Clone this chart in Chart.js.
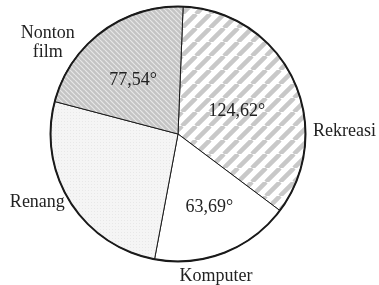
<!DOCTYPE html>
<html>
<head>
<meta charset="utf-8">
<script src="https://cdn.jsdelivr.net/npm/chart.js@4.4.1/dist/chart.umd.min.js"></script>
<style>
  html, body { margin: 0; padding: 0; background: #fff; }
  #wrap { width: 379px; height: 285px; }
</style>
</head>
<body>
<div id="wrap"><canvas id="pie"></canvas></div>
<script>
// Data (besar sudut tiap kegiatan, dalam derajat)
const kategori = ['Rekreasi', 'Komputer', 'Renang', 'Nonton film'];
const sudut = [124.62, 63.69, 94.15, 77.54];
const labelSudut = ['124,62°', '63,69°', '', '77,54°'];

// posisi teks: sudut (derajat dari atas, searah jarum jam) dan jarak dari pusat
const posNama = [
  { a: 89, d: 135, align: 'left' },
  { a: 165, d: 147, align: 'center' },
  { a: 239, d: 132, align: 'right' },
  { a: 305, d: 159, align: 'center' }
];
const posNilai = [
  { a: 69, d: 63 },
  { a: 157, d: 80 },
  null,
  { a: 320, d: 70 }
];

// Pola arsiran
function pola(jenis) {
  const c = document.createElement('canvas');
  const ctx = c.getContext('2d');
  if (jenis === 'garis') {
    const s = 14;
    c.width = s; c.height = s;
    ctx.fillStyle = '#fff';
    ctx.fillRect(0, 0, s, s);
    ctx.strokeStyle = '#c8c8c8';
    ctx.lineWidth = 4.5;
    ctx.beginPath();
    for (let k = -1; k <= 1; k++) {
      ctx.moveTo(k * s, s);
      ctx.lineTo(k * s + s, 0);
    }
    ctx.stroke();
  } else if (jenis === 'halus') {
    const s = 5;
    c.width = s; c.height = s;
    ctx.fillStyle = '#c4c4c4';
    ctx.fillRect(0, 0, s, s);
    ctx.strokeStyle = '#e8e8e8';
    ctx.lineWidth = 1.2;
    ctx.beginPath();
    for (let k = -1; k <= 1; k++) {
      ctx.moveTo(k * s, 0);
      ctx.lineTo(k * s + s, s);
    }
    ctx.stroke();
  } else {
    const s = 3;
    c.width = s; c.height = s;
    ctx.fillStyle = '#f5f5f5';
    ctx.fillRect(0, 0, s, s);
    ctx.fillStyle = '#e8e8e8';
    ctx.fillRect(1, 1, 1, 1);
  }
  return document.createElement('canvas').getContext('2d').createPattern(c, 'repeat');
}

const warna = [pola('garis'), '#ffffff', pola('titik'), pola('halus')];

// Plugin untuk lingkaran luar dan teks
const teksPlugin = {
  id: 'teksPlugin',
  afterDatasetsDraw(chart) {
    const ctx = chart.ctx;
    const arcs = chart.getDatasetMeta(0).data;
    const cx = arcs[0].x, cy = arcs[0].y, r = arcs[0].outerRadius;

    ctx.save();
    ctx.beginPath();
    ctx.arc(cx, cy, r, 0, Math.PI * 2);
    ctx.lineWidth = 2;
    ctx.strokeStyle = '#1a1a1a';
    ctx.stroke();

    ctx.font = '18px "Liberation Serif", "Times New Roman", serif';
    ctx.fillStyle = '#222';
    ctx.textBaseline = 'middle';

    function titik(p) {
      const rad = p.a * Math.PI / 180;
      return { x: cx + Math.sin(rad) * p.d, y: cy - Math.cos(rad) * p.d };
    }

    kategori.forEach((nama, i) => {
      const p = titik(posNama[i]);
      ctx.textAlign = posNama[i].align;
      const baris = nama === 'Nonton film' ? ['Nonton', 'film'] : [nama];
      baris.forEach((b, j) => {
        ctx.fillText(b, p.x, p.y + (j - (baris.length - 1) / 2) * 19);
      });
    });

    ctx.textAlign = 'center';
    labelSudut.forEach((t, i) => {
      if (!t || !posNilai[i]) return;
      const p = titik(posNilai[i]);
      ctx.fillText(t, p.x, p.y);
    });
    ctx.restore();
  }
};

new Chart(document.getElementById('pie'), {
  type: 'pie',
  data: {
    labels: kategori,
    datasets: [{
      data: sudut,
      backgroundColor: warna,
      borderColor: '#1a1a1a',
      borderWidth: 1
    }]
  },
  options: {
    responsive: true,
    maintainAspectRatio: false,
    animation: false,
    rotation: 2.3,
    layout: { padding: { top: 6, bottom: 23, left: 50, right: 73 } },
    plugins: {
      legend: { display: false },
      tooltip: { enabled: false }
    }
  },
  plugins: [teksPlugin]
});
</script>
</body>
</html>
